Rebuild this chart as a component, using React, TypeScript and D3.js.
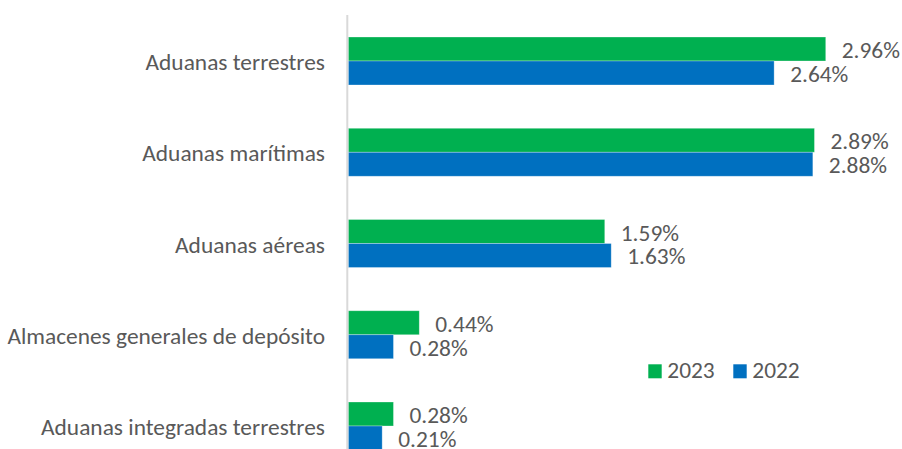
import React from "react";
import * as d3 from "d3";

const categories = [
  "Aduanas terrestres",
  "Aduanas marítimas",
  "Aduanas aéreas",
  "Almacenes generales de depósito",
  "Aduanas integradas terrestres",
];
const series = ["2023", "2022"];
const values2023 = [2.96, 2.89, 1.59, 0.44, 0.28];
const values2022 = [2.64, 2.88, 1.63, 0.28, 0.21];
const colors = ["#00B050", "#0070C0"];

const W = 902;
const H = 449;
const FONT = "Calibri, Carlito, 'Open Sans', 'Liberation Sans', sans-serif";
const FS = 23.4;

export default function App() {
  const x = d3.scaleLinear().domain([0, 3]).range([348.3, 348.3 + 3 * 161.3]);
  const step = 91.25;
  const y = d3
    .scaleBand<string>()
    .domain(categories)
    .range([61 - step / 2, 61 + (categories.length - 0.5) * step])
    .paddingInner(0.474)
    .paddingOuter(0.237);
  const ys = d3.scaleBand<string>().domain(series).range([0, y.bandwidth()]);
  const vals = [values2023, values2022];

  return (
    <svg
      width={W}
      height={H}
      style={{ position: "absolute", left: 0, top: 0, background: "#fff" }}
      fontFamily={FONT}
    >
      <rect width={W} height={H} fill="#fff" />
      {categories.map((c, i) => (
        <g key={c}>
          {series.map((s, k) => {
            const v = vals[k][i];
            const yy = (y(c) as number) + (ys(s) as number);
            return (
              <g key={s}>
                <rect
                  x={x(0)}
                  y={yy}
                  width={x(v) - x(0)}
                  height={ys.bandwidth()}
                  fill={colors[k]}
                  stroke="#ffffff"
                  strokeOpacity={0.4}
                  strokeWidth={0.75}
                />
                <text
                  x={x(v) + 16}
                  y={yy + ys.bandwidth() / 2 + 9}
                  fontSize={FS}
                  fill="#595959"
                >
                  {v.toFixed(2) + "%"}
                </text>
              </g>
            );
          })}
          <text
            x={325}
            y={(y(c) as number) + y.bandwidth() / 2 + 9}
            textAnchor="end"
            fontSize={FS}
            fill="#595959"
          >
            {c}
          </text>
        </g>
      ))}
      <line x1={x(0) - 1} x2={x(0) - 1} y1={15} y2={H} stroke="#D9D9D9" strokeWidth={2} />
      <g>
        {series.map((s, k) => (
          <g key={s} transform={`translate(${648.3 + k * 85},364.3)`}>
            <rect width={13.4} height={14} fill={colors[k]} />
            <text x={19} y={14} fontSize={FS} fill="#595959">
              {s}
            </text>
          </g>
        ))}
      </g>
    </svg>
  );
}
